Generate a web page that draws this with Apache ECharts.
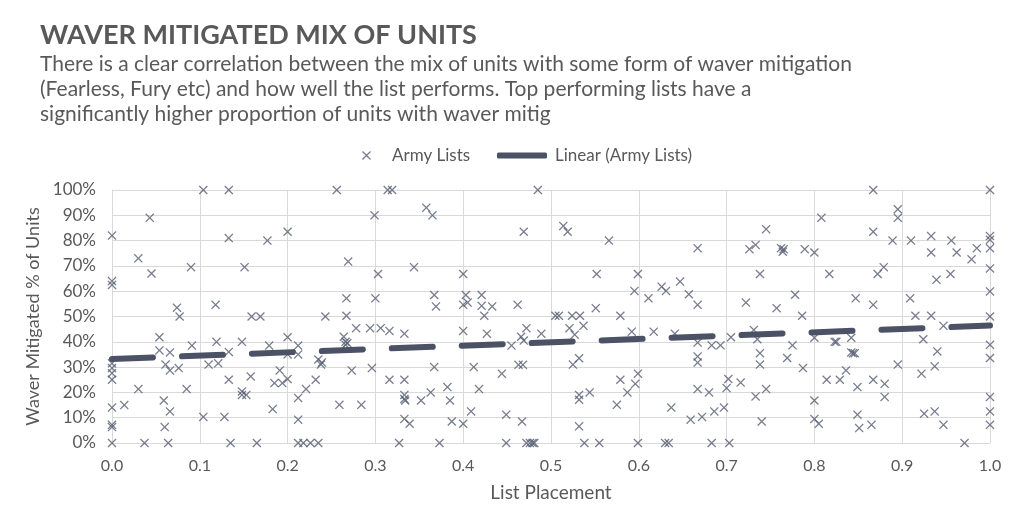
<!DOCTYPE html>
<html><head><meta charset="utf-8">
<script src="https://cdn.jsdelivr.net/npm/echarts@6/dist/echarts.min.js"></script>
<style>html,body{margin:0;padding:0;background:#fff}#c{width:1024px;height:528px}</style>
</head><body><div id="c"></div>
<script>
const titleText = 'WAVER MITIGATED MIX OF UNITS';
const subtitleLines = [
  'There is a clear correlation between the mix of units with some form of waver mitigation',
  '(Fearless, Fury etc) and how well the list performs. Top performing lists have a',
  'significantly higher proportion of units with waver mitig'
];
const seriesNames = ['Army Lists', 'Linear (Army Lists)'];
const xTickLabels = ['0.0','0.1','0.2','0.3','0.4','0.5','0.6','0.7','0.8','0.9','1.0'];
const yTickLabels = ['0%','10%','20%','30%','40%','50%','60%','70%','80%','90%','100%'];

// List placement (x) and waver-mitigated % (y)
const armyLists = [
[0.104,100],[0.133,100],[0.043,89],[0,82],[0.133,81],[0.177,80],[0.2,83.5],[0.03,73],[0.09,69.5],[0.151,69.5],[0.045,67],[0,64],[0,62.5],[0.074,53.5],[0.077,50],[0.118,54.6],[0.159,50],[0.169,50],[0.243,50],[0.054,41.8],[0.054,36.6],[0.066,35.8],[0.091,38.5],[0.119,40],[0.148,40],[0.179,38.5],[0.2,41.8],[0.212,38.5],[0.2,35],[0.212,35],[0.133,36],[0,31.5],[0,29.6],[0,27.6],[0,25],[0.061,31],[0.066,28.7],[0.076,29.6],[0.11,31],[0.121,31.5],[0.133,25],[0.148,20.4],[0.148,19],[0.153,19],[0.158,26.3],[0.191,28.7],[0.185,23.7],[0.194,23.7],[0.2,25.3],[0.212,17.8],[0.221,21.3],[0.232,25],[0.235,33],[0.238,31],[0.03,21.3],[0.014,15],[0,14],[0,7.2],[0,6.3],[0.059,16.8],[0.066,12.5],[0.06,6.3],[0.085,21.3],[0.104,10.3],[0.128,10.3],[0.183,13.4],[0.212,9.2],[0,0],[0.037,0],[0.064,0],[0.135,0],[0.165,0],[0.212,0],[0.218,0],[0.226,0],[0.235,0],
[0.256,100],[0.314,100],[0.319,100],[0.485,100],[0.299,90],[0.358,93],[0.365,90],[0.469,83.5],[0.269,71.7],[0.344,69.5],[0.303,66.8],[0.4,66.8],[0.267,57.2],[0.3,57.2],[0.367,58.5],[0.369,54],[0.4,54.6],[0.403,58.5],[0.405,55.5],[0.421,58.5],[0.421,54.2],[0.433,54],[0.424,50.3],[0.462,54.6],[0.267,50.3],[0.278,45.4],[0.294,45.4],[0.306,45.4],[0.316,44.3],[0.333,43.2],[0.4,44.3],[0.427,43.2],[0.472,45.4],[0.466,42],[0.469,40.5],[0.489,43.2],[0.455,38.5],[0.264,42],[0.266,40],[0.268,39.5],[0.266,38.8],[0.239,31.8],[0.273,28.7],[0.296,29.6],[0.367,30],[0.412,30],[0.444,27.4],[0.463,30.9],[0.468,30.9],[0.316,25],[0.333,25],[0.382,22.1],[0.418,21.3],[0.333,19],[0.333,17.4],[0.334,16.8],[0.352,16.8],[0.363,20],[0.385,16.8],[0.259,15.1],[0.284,15.1],[0.409,12.5],[0.449,11.2],[0.333,9.5],[0.339,7.6],[0.387,8.5],[0.4,7.6],[0.467,8.5],[0.327,0],[0.373,0],[0.449,0],[0.472,0],[0.476,0],[0.479,0],[0.481,0],
[0.514,85.8],[0.519,83.5],[0.566,80],[0.667,77],[0.552,66.8],[0.599,66.8],[0.595,60.1],[0.611,57.2],[0.626,61.8],[0.631,60.1],[0.647,63.8],[0.657,58.8],[0.667,54.6],[0.551,53.3],[0.505,50.3],[0.509,50.3],[0.524,50.3],[0.533,50.3],[0.579,50.3],[0.521,45.4],[0.537,46.3],[0.527,42.8],[0.592,44],[0.617,44],[0.641,43.2],[0.705,41.8],[0.667,39.7],[0.683,38.6],[0.693,38.6],[0.667,34.2],[0.667,31.8],[0.532,33.5],[0.525,31],[0.599,27.4],[0.579,25],[0.596,23.4],[0.587,20],[0.702,25.3],[0.7,21.7],[0.716,23.9],[0.532,19],[0.532,17.1],[0.544,20],[0.667,21.3],[0.68,20],[0.575,15.1],[0.637,14],[0.659,9.2],[0.672,10.3],[0.686,12.5],[0.697,14],[0.532,6.6],[0.538,0],[0.555,0],[0.599,0],[0.63,0],[0.634,0],[0.683,0],[0.703,0],[0.726,76.6],[0.733,78.3],[0.722,55.5],[0.731,44.7],[0.733,18.4],
[0.745,84.5],[0.738,66.8],[0.735,41],[0.738,35.5],[0.738,31],[0.745,21.3],[0.74,8.5],[0.762,77],[0.764,75.6],[0.765,76.6],[0.789,76.6],[0.8,75.3],[0.808,89],[0.867,100],[0.867,83.5],[0.895,92.4],[0.895,89],[0.889,80],[0.91,80],[0.933,81.8],[0.933,75.3],[0.956,80],[0.962,75.3],[0.985,77],[0.979,72.6],[1,100],[1,81.8],[1,80.3],[1,77],[1,69],[1,59.9],[1,50],[1,38.8],[1,33.6],[1,18.2],[1,12.5],[1,7.2],[0.817,66.8],[0.872,66.8],[0.879,69.5],[0.939,64.5],[0.955,66.8],[0.778,58.6],[0.757,53.3],[0.786,50.3],[0.847,57.2],[0.867,54.6],[0.909,57.2],[0.915,50.3],[0.933,50.3],[0.947,46.3],[0.8,41.6],[0.823,40],[0.825,40],[0.842,41.6],[0.842,35.8],[0.844,35.5],[0.846,35.5],[0.924,41],[0.775,38.6],[0.769,33.6],[0.787,29.6],[0.94,36.2],[0.895,31],[0.937,30.3],[0.922,27.4],[0.836,28.7],[0.814,25],[0.829,25],[0.849,22.1],[0.867,25],[0.88,23.4],[0.88,18.2],[0.8,16.8],[0.8,9.5],[0.805,7.6],[0.849,11.2],[0.851,5.9],[0.865,7.2],[0.925,11.6],[0.937,12.5],[0.947,7.2],[0.971,0]
];
// Linear trend line endpoints
const trendX = [0, 1];
const trendY = [33.2, 46.4];

const FONT = 'Lato';
const TXT = '#595959';
const MARK = '#555c6f';
const LINE = '#4b5265';
const GRIDC = '#d9d9d9';
const XSYM = 'path://M0,1L1,0L5,4L9,0L10,1L6,5L10,9L9,10L5,6L1,10L0,9L4,5Z';

const chart = echarts.init(document.getElementById('c'));
chart.setOption({
  animation: false,
  backgroundColor: '#fff',
  title: [
    {text: titleText, left: 40, top: 22, padding: 0,
     textStyle: {fontFamily: FONT, fontWeight: 'bold', fontSize: 27, color: TXT}},
    {text: subtitleLines.join('\n'), left: 40, top: 52, padding: 0,
     textStyle: {fontFamily: FONT, fontWeight: 'normal', fontSize: 21, color: TXT, lineHeight: 25}}
  ],
  legend: [
    {data: [{name: seriesNames[0], icon: XSYM}], left: 362, top: 147, padding: 0, itemWidth: 9, itemHeight: 9,
     textStyle: {fontFamily: FONT, fontSize: 17, color: TXT, padding: [0,0,0,16]}},
    {data: [{name: seriesNames[1], icon: 'roundRect'}], left: 497, top: 147, padding: 0, itemWidth: 50, itemHeight: 6,
     textStyle: {fontFamily: FONT, fontSize: 17, color: TXT, padding: [0,0,0,3]}}
  ],
  grid: {left: 112, right: 34, top: 190, bottom: 85},
  xAxis: {
    type: 'value', min: 0, max: 1, interval: 0.1,
    name: 'List Placement', nameLocation: 'middle', nameGap: 40,
    nameTextStyle: {fontFamily: FONT, fontSize: 19, color: TXT},
    axisLine: {lineStyle: {color: GRIDC}}, axisTick: {show: false},
    splitLine: {show: true, lineStyle: {color: GRIDC}},
    axisLabel: {fontFamily: FONT, fontSize: 16, color: TXT, margin: 15,
      formatter: v => xTickLabels[Math.round(v * 10)]}
  },
  yAxis: {
    type: 'value', min: 0, max: 100, interval: 10,
    name: 'Waver Mitigated % of Units', nameLocation: 'middle', nameGap: 66,
    nameTextStyle: {fontFamily: FONT, fontSize: 18, color: TXT},
    axisLine: {show: true, lineStyle: {color: GRIDC}}, axisTick: {show: false},
    splitLine: {show: true, lineStyle: {color: GRIDC}},
    axisLabel: {fontFamily: FONT, fontSize: 17, color: TXT, margin: 16,
      formatter: v => yTickLabels[Math.round(v / 10)]}
  },
  series: [
    {name: seriesNames[0], type: 'scatter', data: armyLists, symbol: XSYM, symbolSize: 9,
     itemStyle: {color: MARK}, z: 2},
    {name: seriesNames[1], type: 'line', data: trendX.map((x, i) => [x, trendY[i]]), symbol: 'none',
     lineStyle: {color: LINE, width: 6, type: [41, 29], cap: 'round'}, itemStyle: {color: LINE}, z: 3}
  ]
});
</script></body></html>
